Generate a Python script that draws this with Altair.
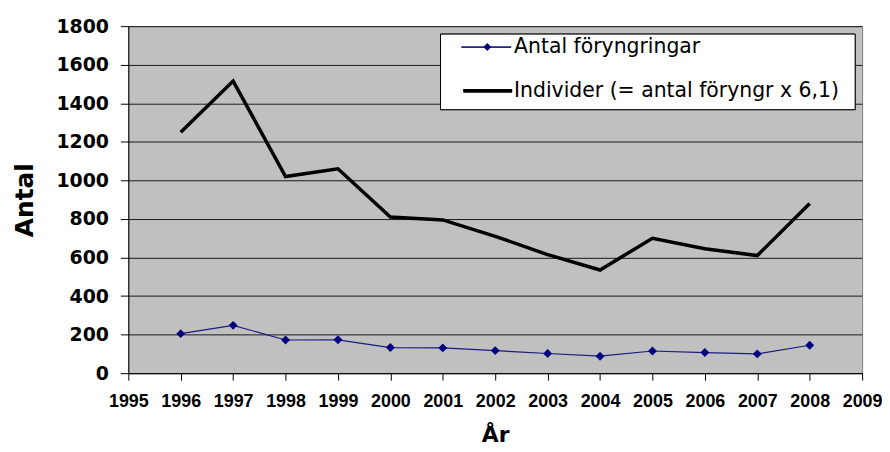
import altair as alt
import pandas as pd

years = [1996, 1997, 1998, 1999, 2000, 2001, 2002, 2003, 2004, 2005, 2006, 2007, 2008]
foryngringar = [205, 248, 172, 173, 133, 131, 117, 102, 88, 115, 107, 100, 145]
individer = [1250, 1515, 1020, 1060, 810, 795, 710, 615, 535, 700, 645, 610, 880]
series_names = ["Antal föryngringar", "Individer (= antal föryngr x 6,1)"]
x_ticks = list(range(1995, 2010))
y_ticks = list(range(0, 1801, 200))

df_a = pd.DataFrame({"year": years, "value": foryngringar})
df_b = pd.DataFrame({"year": years, "value": individer})

FONT = "DejaVu Sans"
XFONT = "Liberation Sans"

x_enc = alt.X("year:Q", scale=alt.Scale(domain=[1995, 2009], nice=False, zero=False),
              axis=alt.Axis(values=x_ticks, format="d", title="År", grid=False,
                            labelFont=XFONT, labelFontSize=18, labelFontWeight="bold",
                            labelColor="black", labelPadding=13, tickSize=7,
                            tickColor="black", domainColor="black",
                            labelOverlap=False,
                            titleFont=FONT, titleFontSize=22, titleFontWeight="bold",
                            titleColor="black", titlePadding=14, labelFlush=False))
y_enc = alt.Y("value:Q", scale=alt.Scale(domain=[0, 1800], nice=False),
              axis=alt.Axis(values=y_ticks, format="d", title="Antal", grid=True, gridColor="#1a1a1a",
                            gridWidth=1, gridOpacity=1, labelOverlap=False,
                            labelFont=FONT, labelFontSize=19, labelFontWeight="bold",
                            labelColor="black", labelPadding=12, tickSize=8,
                            tickColor="black", domainColor="black",
                            titleFont=FONT, titleFontSize=25, titleFontWeight="bold",
                            titleColor="black", titlePadding=18))

line_b = alt.Chart(df_b).mark_line(color="black", strokeWidth=3.5, strokeJoin="miter").encode(x=x_enc, y=y_enc)
line_a = alt.Chart(df_a).mark_line(color="#1a1a80", strokeWidth=1.2).encode(x=x_enc, y=y_enc)
pts_a = alt.Chart(df_a).mark_point(shape="diamond", filled=True, color="#000080", size=80, opacity=1).encode(x=x_enc, y=y_enc)

# legend (decoration)
leg_df = pd.DataFrame({"name": series_names})
box = alt.Chart(leg_df).mark_rect(fill="white", stroke="black", strokeWidth=1).encode(
    x=alt.value(314), x2=alt.value(731), y=alt.value(8), y2=alt.value(84))
rule1 = alt.Chart(leg_df).mark_rule(color="#1a1a80", strokeWidth=1.2).encode(
    x=alt.value(335), x2=alt.value(385), y=alt.value(21))
pt1 = alt.Chart(leg_df).mark_point(shape="diamond", filled=True, color="#000080", size=55, opacity=1).encode(
    x=alt.value(361), y=alt.value(21))
rule2 = alt.Chart(leg_df).mark_rule(color="black", strokeWidth=3.5).encode(
    x=alt.value(337), x2=alt.value(386), y=alt.value(65))
txt1 = alt.Chart(pd.DataFrame({"t": [series_names[0]]})).mark_text(
    align="left", baseline="middle", font=FONT, fontSize=20.5, color="black").encode(
    x=alt.value(388), y=alt.value(21), text="t:N")
txt2 = alt.Chart(pd.DataFrame({"t": [series_names[1]]})).mark_text(
    align="left", baseline="middle", font=FONT, fontSize=20.5, color="black").encode(
    x=alt.value(388), y=alt.value(65), text="t:N")

chart = alt.layer(line_b, line_a, pts_a, box, rule1, pt1, rule2, txt1, txt2).properties(
    width=738, height=349,
    autosize=alt.AutoSizeParams(type="none"),
    padding={"left": 121, "top": 17, "right": 20, "bottom": 74},
    background="white",
).configure_view(fill="#c0c0c0", stroke="#808080", strokeWidth=1)

chart.save("out.html", embed_options={"renderer": "svg", "actions": False})
